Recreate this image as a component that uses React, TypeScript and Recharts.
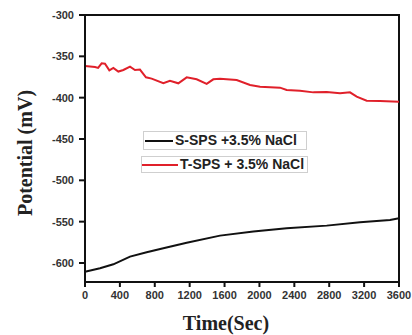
import React from 'react';
import { LineChart, Line, XAxis, YAxis, ReferenceArea, Legend } from 'recharts';

// T-SPS + 3.5% NaCl (red)
const tspsTime = [0, 115, 150, 191, 229, 279, 325, 382, 440, 516, 573, 630, 699, 764, 898, 974, 1070, 1166, 1280, 1395, 1471, 1548, 1739, 1892, 2007, 2236, 2312, 2465, 2618, 2771, 2924, 3038, 3115, 3229, 3382, 3600];
const tspsValue = [-361.7, -363, -364, -358.5, -359, -367, -364, -368.4, -366.5, -362.5, -366.5, -366, -375.4, -377, -382.6, -379.5, -382.6, -375.4, -377.8, -383.4, -377.8, -377, -378.6, -384.7, -386.7, -387.9, -390.8, -391.6, -393.6, -393.2, -394.8, -393.6, -398.8, -403.6, -404, -404.8];

// S-SPS +3.5% NaCl (black)
const sspsTime = [0, 172, 325, 516, 707, 898, 1166, 1548, 1930, 2312, 2771, 3153, 3497, 3600];
const sspsValue = [-610.5, -606.4, -601.6, -592.3, -587, -582.2, -575.4, -566.9, -562, -558, -554.8, -550.8, -548, -546];

const xTicks = [0, 400, 800, 1200, 1600, 2000, 2400, 2800, 3200, 3600];
const yTicks = [-600, -550, -500, -450, -400, -350, -300];
const legendLabels = ['S-SPS +3.5% NaCl', 'T-SPS + 3.5% NaCl'];
const seriesColors = ['#111111', '#e0202a'];

const tspsData = tspsTime.map((t, i) => ({ t, v: tspsValue[i] }));
const sspsData = sspsTime.map((t, i) => ({ t, v: sspsValue[i] }));

const tickStyle = { fontFamily: 'Liberation Sans, Arial, sans-serif', fontWeight: 700, fontSize: 11, fill: '#333' };

const LegendContent = () => (
  <div style={{ position: 'relative', width: 170, height: 45, fontFamily: 'Liberation Sans, Arial, sans-serif', fontWeight: 700, fontSize: 14, color: '#222' }}>
    <div style={{ position: 'absolute', left: 2, top: 0, width: 162, height: 17, border: '1px solid #cfcfcf', display: 'flex', alignItems: 'center' }}>
      <div style={{ width: 28, height: 2, background: seriesColors[0], marginLeft: 1, marginRight: 2 }} />
      <span style={{ lineHeight: '17px', whiteSpace: 'nowrap' }}>{legendLabels[0]}</span>
    </div>
    <div style={{ position: 'absolute', left: 0, top: 25, width: 165, height: 15, border: '1px solid #cfcfcf', display: 'flex', alignItems: 'center' }}>
      <div style={{ width: 36, height: 2, background: seriesColors[1], marginRight: 2 }} />
      <span style={{ lineHeight: '15px', whiteSpace: 'nowrap' }}>{legendLabels[1]}</span>
    </div>
  </div>
);

export default function App() {
  return (
    <div style={{ position: 'absolute', left: 0, top: 0, width: 412, height: 335, background: '#fff' }}>
      <LineChart width={412} height={335} margin={{ top: 15, right: 13, bottom: 23, left: 25 }}>
        <XAxis
          dataKey="t"
          type="number"
          domain={[0, 3600]}
          ticks={xTicks}
          allowDuplicatedCategory={false}
          height={30}
          tick={tickStyle}
          tickSize={5}
          tickMargin={4}
          axisLine={{ stroke: '#111', strokeWidth: 2 }}
          tickLine={{ stroke: '#111', strokeWidth: 2 }}
        />
        <YAxis
          dataKey="v"
          type="number"
          domain={[-623, -300]}
          ticks={yTicks}
          width={60}
          tick={tickStyle}
          tickSize={6}
          tickMargin={5}
          axisLine={{ stroke: '#111', strokeWidth: 2 }}
          tickLine={{ stroke: '#111', strokeWidth: 2 }}
        />
        <ReferenceArea x1={0} x2={3600} y1={-623} y2={-300} fill="none" stroke="#111" strokeWidth={2} ifOverflow="visible" />
        <Line data={sspsData} dataKey="v" type="linear" stroke={seriesColors[0]} strokeWidth={2} dot={false} isAnimationActive={false} name={legendLabels[0]} />
        <Line data={tspsData} dataKey="v" type="linear" stroke={seriesColors[1]} strokeWidth={2} dot={false} isAnimationActive={false} name={legendLabels[1]} />
        <Legend
          layout="vertical"
          align="center"
          verticalAlign="middle"
          content={<LegendContent />}
          wrapperStyle={{ position: 'absolute', left: 141, top: 131, width: 170, height: 45 }}
        />
        <text x={32} y={153} transform="rotate(-90 32 153)" textAnchor="middle" style={{ fontFamily: 'Liberation Serif, Times New Roman, serif', fontWeight: 700, fontSize: 20, fill: '#222' }}>
          Potential (mV)
        </text>
        <text x={226} y={330} textAnchor="middle" style={{ fontFamily: 'Liberation Serif, Times New Roman, serif', fontWeight: 700, fontSize: 20, fill: '#222' }}>
          Time(Sec)
        </text>
      </LineChart>
    </div>
  );
}
